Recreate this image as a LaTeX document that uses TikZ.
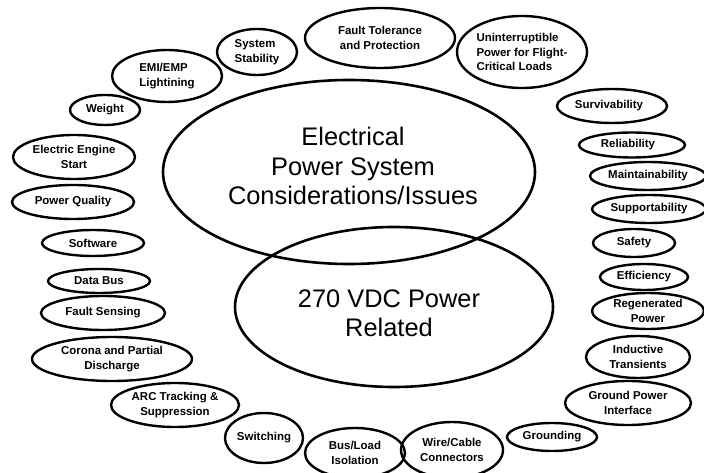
\documentclass[tikz,border=0pt]{standalone}
\usepackage{fontspec}
\setmainfont{Liberation Sans}
\usetikzlibrary{shapes.geometric}
\begin{document}
\begin{tikzpicture}[x=1bp,y=-1bp,
  item/.style={draw, ellipse, line width=2.4bp, inner sep=0pt, align=center,
    font=\fontsize{11.5}{14.5}\selectfont\bfseries},
  itemL/.style={item, align=left},
  big/.style={draw, ellipse, line width=2.6bp, inner sep=0pt},
  bigtext/.style={inner sep=0pt, align=center, font=\fontsize{25.5}{29.5}\selectfont},
  sz/.style 2 args={minimum width=#1bp, minimum height=#2bp}]
\useasboundingbox (0,0) rectangle (704,473);

% central ellipses
\node[big, sz={372}{184}] (eps) at (349,172) {};
\node[bigtext] (epsT) at (353,166) {Electrical\\Power System\\Considerations/Issues};
\node[big, sz={318}{160}] (vdc) at (394,307) {};
\node[bigtext] (vdcT) at (389,313) {270 VDC Power\\Related};

% top arc
\node[itemL, sz={80}{46}]  (stab)  at (257,52)  {System\\Stability};
\node[item,  sz={150}{60}] (ftol)  at (380,38)  {Fault Tolerance\\and Protection};
\node[itemL, sz={130}{72}] (ups)   at (522,52)  {Uninterruptible\\Power for Flight-\\Critical Loads};

% right column
\node[item, sz={110}{34}]  (surv)  at (612,106) {Survivability\hspace*{6bp}};
\node[item, sz={106}{25}]  (rel)   at (632,145) {Reliability\hspace*{8bp}};
\node[item, sz={116}{28}]  (maint) at (648,176) {Maintainability};
\node[item, sz={114}{28}]  (supp)  at (649,209) {Supportability};
\node[item, sz={82}{28}]   (safe)  at (634,243) {Safety};
\node[item, sz={88}{26}]   (eff)   at (644,277) {Efficiency};
\node[item, sz={112}{36}]  (regen) at (648,311) {Regenerated\\Power};
\node[item, sz={104}{42}]  (ind)   at (638,357) {Inductive\\Transients};
\node[item, sz={126}{44}]  (gpi)   at (628,403) {Ground Power\\Interface};

% bottom arc
\node[item, sz={90}{28}]   (gnd)   at (552,437) {Grounding};
\node[item, sz={102}{56}]  (wire)  at (452,450) {Wire/Cable\\Connectors};
\node[item, sz={100}{50}]  (bus)   at (355,453) {Bus/Load\\Isolation};
\node[item, sz={78}{50}]   (sw)    at (264,438) {Switching};
\node[item, sz={128}{44}]  (arc)   at (175,405) {ARC Tracking \&\\Suppression};

% left column
\node[item, sz={160}{44}]  (cor)   at (112,359) {Corona and Partial\\Discharge};
\node[item, sz={124}{34}]  (fs)    at (103,313) {Fault Sensing};
\node[item, sz={102}{24}]  (db)    at (99,281)  {Data Bus};
\node[item, sz={102}{26}]  (sw2)   at (93,243)  {Software};
\node[item, sz={122}{34}]  (pq)    at (73,202)  {Power Quality};
\node[item, sz={122}{44}]  (ees)   at (74,157)  {Electric Engine\\Start};
\node[item, sz={70}{30}]   (wt)    at (105,110) {Weight};
\node[itemL, sz={110}{52}] (emi)   at (167,76)  {EMI/EMP\\Lightining};
\end{tikzpicture}
\end{document}
